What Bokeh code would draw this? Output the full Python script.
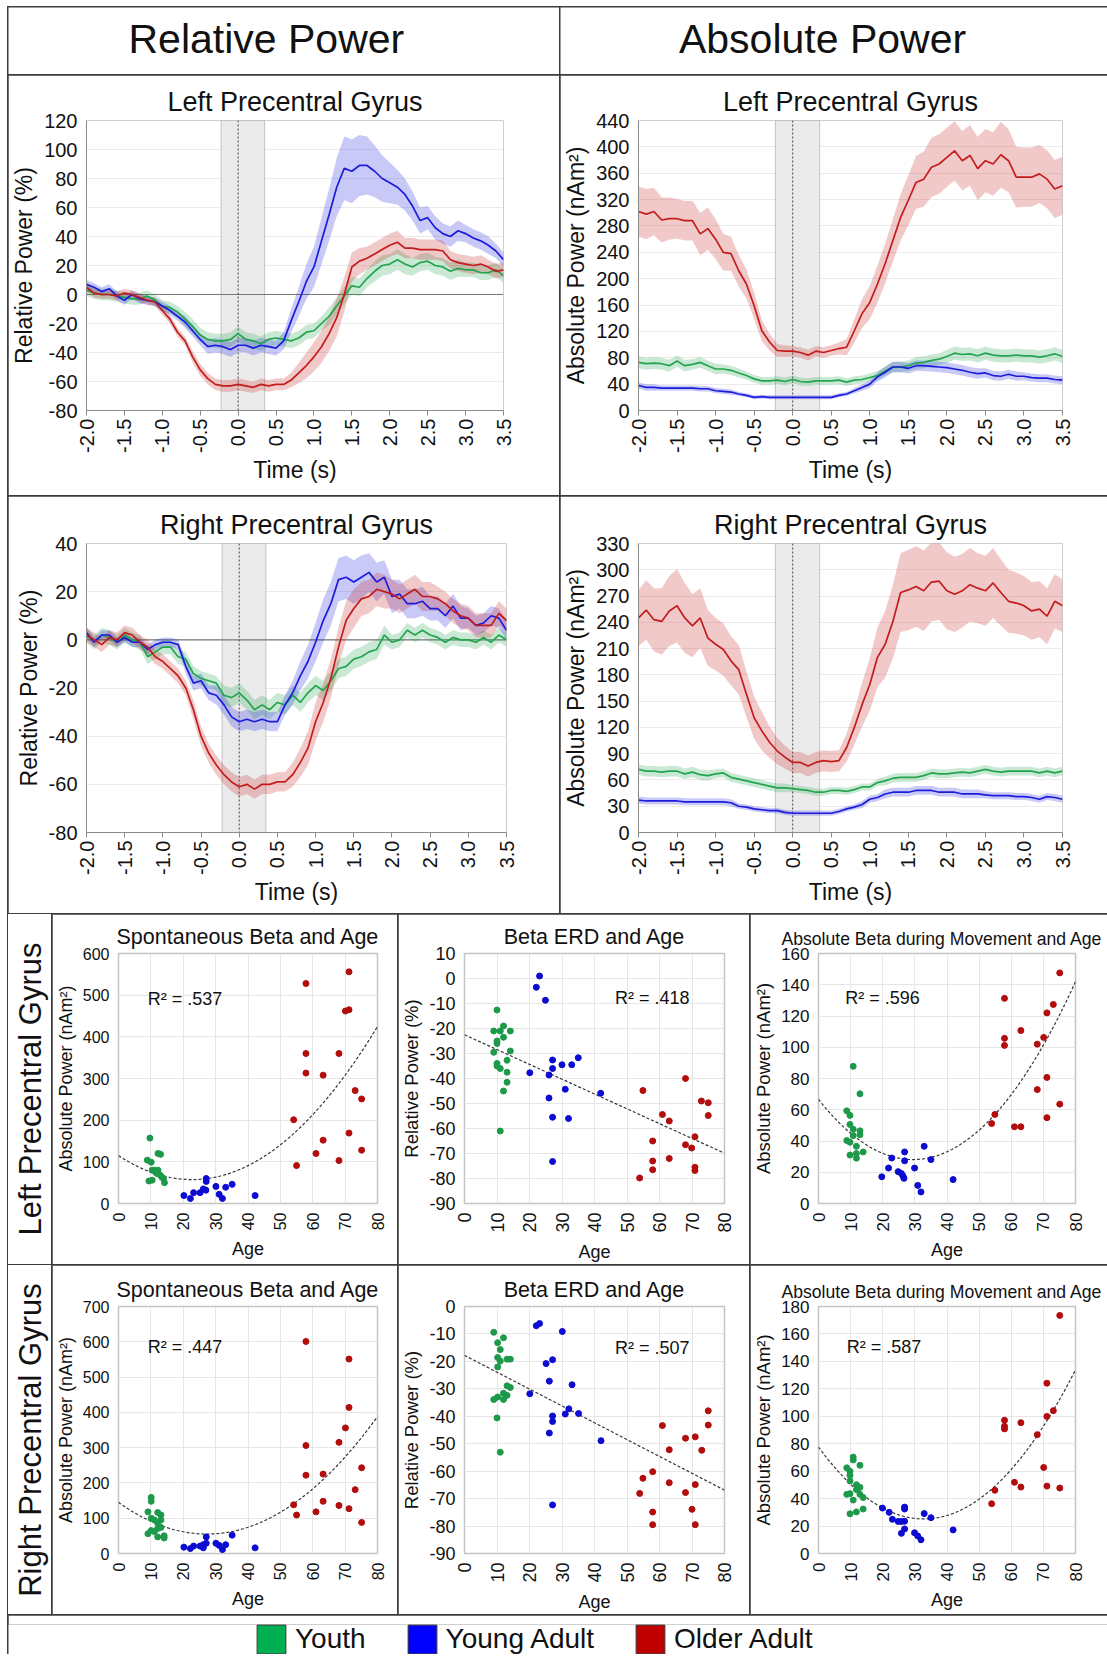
import math
import numpy as np
from bokeh.plotting import figure
from bokeh.layouts import row, column
from bokeh.models import (FixedTicker, PrintfTickFormatter, Span, BoxAnnotation,
                          Range1d, Legend, LegendItem, Div)
from bokeh.core.properties import value
from bokeh.embed import file_html
from bokeh.resources import INLINE

FONT = "Liberation Sans"

# ---------------- groups ----------------
group_names = ["Youth", "Young Adult", "Older Adult"]
line_colors = ["#23a54f", "#1c1cdc", "#c41c1c"]
dot_colors = ["#1c9a4a", "#0b0bd2", "#b20c0c"]
legend_colors = ["#00b050", "#0000ff", "#c00000"]

# ---------------- time series ----------------
time_s = np.round(np.arange(-2.0, 3.5001, 0.1), 1)   # sampling grid
time_ticks = [-2.0, -1.5, -1.0, -0.5, 0.0, 0.5, 1.0, 1.5, 2.0, 2.5, 3.0, 3.5]
move_window = [-0.225, 0.35]

# Left precentral gyrus, relative power (%)
rel_lpg_youth = [3,1,0,0,-1,-2,-3,-3,-1,-4, -8,-9,-12,-17,-22,-28,-31,-32,-32,-31,
                 -27,-31,-32,-34,-31,-30,-31,-32,-30,-26, -25,-20,-15,-8,-1,6,5,11,16,20,
                 21,24,21,19,22,23,20,19,16,18, 17,17,15,15,17,13]
rel_lpg_young = [7,5,2,4,-1,-4,0,-3,-4,-5, -8,-11,-15,-19,-25,-31,-36,-35,-36,-38,
                 -35,-35,-37,-35,-36,-37,-32,-18,-5,9, 19,37,55,74,87,85,89,89,85,80,
                 77,74,69,61,51,53,46,42,40,44, 42,39,37,34,30,24]
rel_lpg_older = [5,1,0,0,-1,1,0,-2,-4,-5, -11,-17,-26,-32,-43,-52,-58,-62,-63,-63,
                 -62,-63,-64,-62,-63,-62,-62,-59,-54,-49, -43,-36,-27,-16,0,19,23,25,28,31,
                 34,36,32,32,31,31,31,30,24,22, 21,20,21,19,16,17]
rel_lpg_youth_err = [4,4,4,4,4,4,4,4,4,4, 4,4,4,5,5,5,5,5,5,5, 5,5,5,5,5,5,5,5,5,5,
                     5,5,6,6,6,6,6,6,7,7, 7,7,7,6,6,6,6,6,6,6, 5,5,5,5,5,5]
rel_lpg_young_err = [3,3,3,3,3,3,3,3,3,3, 3,3,3,4,4,4,5,5,5,5, 5,5,5,5,5,5,6,8,10,12,
                     14,16,18,20,22,22,21,20,18,16, 14,12,11,10,9,8,8,7,7,7, 6,6,6,6,5,5]
rel_lpg_older_err = [3,3,3,3,3,3,3,3,3,3, 3,3,3,3,4,4,4,4,4,4, 4,4,4,4,4,4,4,5,7,9,
                     10,11,12,13,12,10,9,8,8,8, 8,8,7,7,7,7,7,7,6,6, 6,6,6,5,5,5]

# Left precentral gyrus, absolute power (nAm^2)
abs_lpg_youth = [73,71,72,71,68,75,68,70,73,68, 63,63,61,57,53,48,45,45,46,44,
                 47,44,43,45,45,45,46,43,46,47, 50,53,60,66,66,68,72,73,76,78,
                 82,87,85,86,83,87,84,83,83,84, 83,83,81,83,86,82]
abs_lpg_young = [38,35,35,34,34,34,34,34,33,33, 30,29,28,25,23,20,21,20,20,20,
                 20,20,20,20,20,20,23,25,30,35, 40,51,58,66,66,64,68,68,67,66,
                 65,63,61,58,56,57,53,52,55,52, 52,50,49,49,47,46]
abs_lpg_older = [302,298,302,289,291,291,288,288,268,276, 260,240,238,212,192,159,121,104,91,90,
                 90,88,84,90,88,91,94,96,121,147, 164,192,223,258,293,319,346,351,369,374,
                 384,394,379,387,367,379,374,388,379,354, 354,354,359,351,336,341]
abs_lpg_youth_err = [9,9,9,9,9,9,9,8,8,8, 8,7,7,7,6,6,6,6,6,6, 6,6,6,6,6,6,6,6,6,6,
                     6,7,7,8,8,8,9,9,9,9, 10,10,10,10,10,10,10,10,10,10, 10,10,10,10,10,10]
abs_lpg_young_err = [5,5,5,4,4,4,4,4,4,4, 4,4,4,3,3,3,3,3,3,3, 3,3,3,3,3,3,3,3,4,5,
                     6,7,8,8,8,8,8,8,8,8, 8,8,8,8,8,7,7,7,7,7, 6,6,6,6,6,6]
abs_lpg_older_err = [38,38,36,34,32,30,30,30,32,32, 30,28,26,24,22,20,16,13,10,9,
                     8,8,8,8,8,8,9,12,18,22, 25,28,30,32,35,38,40,42,45,45,
                     45,45,45,46,48,48,48,50,48,46, 45,45,44,44,44,44]

# Right precentral gyrus, relative power (%)
rel_rpg_youth = [2,-1,2,1,-1,2,0,-1,-7,-5, -3,-3,-7,-8,-14,-16,-17,-18,-23,-24,
                 -22,-25,-29,-27,-29,-26,-27,-23,-26,-22, -19,-21,-17,-12,-11,-8,-7,-5,-4,2,
                 -1,0,4,2,4,2,1,-1,1,0, 0,-1,1,-1,2,0]
rel_rpg_young = [3,-1,2,2,-1,1,-1,-1,-4,-2, -1,-1,-2,-11,-18,-17,-22,-23,-27,-32,
                 -34,-33,-34,-33,-34,-34,-27,-22,-15,-9, -1,8,15,25,26,24,26,28,24,26,
                 18,19,15,15,16,13,13,10,14,9, 9,6,7,10,9,4]
rel_rpg_older = [2,0,-2,1,0,3,2,-1,-3,-7, -9,-12,-15,-20,-29,-40,-47,-52,-56,-59,
                 -61,-60,-62,-60,-60,-59,-59,-56,-51,-45, -34,-26,-16,-3,8,13,17,18,21,20,
                 19,17,19,21,18,18,17,15,12,10, 9,6,6,6,11,8]
rel_rpg_youth_err = [3,3,3,3,3,3,3,3,3,3, 3,3,3,3,3,3,3,3,4,4, 4,4,4,4,4,4,4,4,4,4,
                     4,4,4,4,4,4,4,4,4,4, 3,3,3,3,3,3,3,3,3,3, 3,3,3,3,3,3]
rel_rpg_young_err = [2,2,2,2,2,2,2,2,2,2, 2,2,2,3,3,3,3,4,4,4, 4,4,4,4,4,4,4,5,6,7,
                     8,9,9,9,9,9,9,8,8,7, 7,6,6,6,6,5,5,5,5,5, 4,4,4,4,4,4]
rel_rpg_older_err = [3,3,3,3,3,3,3,3,3,3, 3,3,3,3,4,4,4,4,4,4, 4,4,4,4,4,4,4,5,6,7,
                     8,8,8,8,8,8,7,7,7,7, 6,6,6,6,6,6,5,5,5,5, 5,5,5,5,5,5]

# Right precentral gyrus, absolute power (nAm^2)
abs_rpg_youth = [72,70,70,69,70,70,67,69,66,65, 67,68,63,61,59,57,55,53,51,51,
                 50,49,48,46,46,48,48,47,49,52, 52,57,59,62,63,63,63,65,68,67,
                 67,68,69,68,70,72,70,69,70,70, 70,70,68,70,68,70]
abs_rpg_young = [37,36,36,36,36,36,35,35,35,35, 35,35,34,30,29,27,26,25,25,23,
                 22,22,22,22,22,22,24,27,29,32, 38,40,44,46,46,46,48,48,48,46,
                 46,46,44,44,44,43,42,42,42,41, 41,40,38,41,40,38]
abs_rpg_older = [245,254,243,241,253,259,245,236,245,222, 215,209,196,186,158,131,116,103,93,86,
                 80,80,76,80,82,81,82,97,120,146, 169,200,215,241,274,277,281,276,286,287,
                 276,272,276,283,279,276,285,274,264,262, 259,253,255,247,264,259]
abs_rpg_youth_err = [6,6,6,6,6,6,6,6,6,6, 5,5,5,5,5,5,5,5,5,5, 4,4,4,4,4,4,4,4,4,4,
                     4,4,5,5,5,5,5,5,5,5, 5,5,5,5,5,5,5,5,5,5, 5,5,5,5,5,5]
abs_rpg_young_err = [4,4,4,4,4,4,4,4,4,4, 4,4,4,3,3,3,3,3,3,3, 3,3,3,3,3,3,3,3,3,4,
                     4,4,5,5,5,5,5,5,5,5, 5,5,5,5,5,4,4,4,4,4, 4,4,4,4,4,4]
abs_rpg_older_err = [32,34,36,38,40,42,40,36,34,32, 30,30,28,28,26,24,22,18,15,13,
                     12,12,12,12,12,12,12,16,20,25, 30,34,38,42,45,46,46,46,45,44,
                     44,43,42,42,40,40,40,38,36,35, 34,33,32,32,31,30]

# ---------------- scatter data (age, value) ----------------
# S1: Left PG, spontaneous beta (nAm^2)
s1_youth_age = [9.7, 8.9, 10.1, 12.2, 13.0, 10.4, 11.1, 12.2, 11.9, 12.9, 13.9, 9.4, 10.4, 14.2, 13.4, 11.5]
s1_youth_val = [157, 104, 99, 120, 118, 80, 80, 80, 72, 68, 60, 54, 56, 50, 63, 75]
s1_young_age = [20.2, 22.2, 23.2, 25.2, 26.2, 27.1, 27.1, 27.0, 30.1, 31.1, 32.1, 33.1, 35.1, 42.2]
s1_young_val = [19, 12, 26, 26, 35, 60, 53, 32, 41, 22, 12, 39, 46, 19]
s1_older_age = [54.1, 55.0, 57.9, 57.9, 57.9, 61.0, 63.2, 63.2, 68.1, 68.1, 70.1, 71.2, 71.2, 71.2, 73.1, 75.1, 75.1]
s1_older_val = [201, 91, 528, 360, 313, 120, 308, 152, 360, 103, 462, 465, 556, 169, 271, 251, 128]
s1_fit = [0.1119, -5.078, 115.0]

# S2: Left PG, beta ERD (%)
s2_youth_age = [10.0, 9.0, 11.0, 12.0, 14.1, 12.0, 10.0, 10.0, 9.0, 14.1, 13.1, 10.0, 10.0, 11.0, 13.1, 13.1, 12.0, 11.0]
s2_youth_val = [-12.6, -21, -21, -19, -21, -23.5, -25, -26, -29.5, -29, -32.7, -34, -35, -36, -37.5, -41.5, -45, -61]
s2_young_age = [23.1, 22.1, 24.9, 20.1, 27.1, 27.1, 26.0, 30.0, 33.0, 35.0, 31.0, 26.0, 27.1, 32.0, 41.9, 27.1]
s2_young_val = [1, -3.5, -8.7, -37.7, -32.6, -36, -38.6, -34.5, -34.5, -31.7, -44.3, -47.8, -55.5, -56, -45.9, -73.2]
s2_older_age = [54.9, 68.0, 72.9, 75.0, 75.0, 60.9, 63.0, 57.9, 68.0, 69.9, 70.9, 57.9, 63.0, 57.9, 70.9, 70.9, 53.9]
s2_older_val = [-44.8, -40, -49, -49.7, -54.8, -54.4, -57, -65, -66.5, -67.8, -63.3, -73, -72, -76.5, -75.5, -76.8, -79.8]
s2_fit = [0.0, -0.5925, -22.5]

# S3: Left PG, absolute beta during movement (nAm^2)
s3_youth_age = [10.8, 12.9, 8.8, 9.8, 9.8, 10.8, 12.9, 12.9, 8.8, 9.8, 10.8, 11.8, 13.9, 11.8, 9.8, 11.8]
s3_youth_val = [87.8, 70.2, 59.3, 56.4, 50.6, 47.5, 46.5, 44.0, 40.3, 39.2, 43.4, 36.6, 33.0, 32.0, 31.0, 29.0]
s3_young_age = [19.7, 21.8, 22.8, 24.8, 25.8, 26.3, 26.6, 26.8, 26.8, 29.9, 30.9, 31.9, 32.9, 35.0, 41.9]
s3_young_val = [17.1, 22.7, 29.1, 20.4, 19.2, 17.6, 16.1, 33.0, 27.3, 22.7, 11.6, 7.4, 36.6, 28.1, 15.3]
s3_older_age = [53.9, 54.9, 57.9, 57.9, 57.9, 61.0, 63.0, 63.0, 68.1, 68.1, 70.1, 71.1, 71.1, 71.1, 73.1, 75.1, 75.1]
s3_older_val = [51.2, 57.0, 131.3, 105.7, 101.2, 49.1, 49.1, 110.7, 102.0, 72.9, 106.3, 122.0, 80.7, 54.9, 127.4, 63.6, 147.6]
s3_fit = [0.0445, -2.62, 66.7]

# S4: Right PG, spontaneous beta (nAm^2)
s4_youth_age = [10.1, 10.1, 9.1, 12.1, 13.1, 10.1, 11.1, 13.1, 12.1, 13.1, 12.1, 10.1, 9.1, 11.1, 14.1, 12.1, 14.1]
s4_youth_val = [159, 148, 118, 116, 109, 100, 95, 95, 86, 74, 71, 65, 56, 62, 50, 47, 44]
s4_young_age = [20.2, 22.2, 23.2, 25.2, 26.2, 26.2, 27.1, 27.1, 30.1, 31.1, 32.1, 33.1, 35.1, 42.2]
s4_young_val = [18, 14, 21, 21, 25, 16, 47, 29, 29, 23, 11, 25, 52, 16]
s4_older_age = [54.1, 55.0, 57.9, 57.9, 57.9, 61.0, 63.2, 63.2, 68.1, 68.1, 70.1, 71.2, 71.2, 71.2, 73.1, 75.1, 75.1]
s4_older_val = [138, 109, 601, 306, 222, 118, 225, 148, 315, 136, 356, 551, 414, 127, 181, 243, 88]
s4_fit = [0.1201, -6.57, 145.0]

# S5: Right PG, beta ERD (%)
s5_youth_age = [9.0, 10.2, 12.0, 11.0, 10.2, 11.0, 13.1, 14.1, 10.2, 13.1, 14.1, 12.0, 13.1, 10.2, 9.0, 12.0, 10.0, 11.0]
s5_youth_val = [-9.4, -13.2, -11.4, -15.7, -18.6, -19.9, -19.2, -19.2, -22.0, -28.9, -29.5, -31.6, -32.4, -33.0, -33.9, -33.9, -40.6, -53.1]
s5_young_age = [22.1, 23.1, 30.1, 25.1, 27.1, 26.1, 33.1, 20.1, 32.1, 31.0, 35.1, 27.1, 27.1, 26.1, 42.0, 27.1]
s5_young_val = [-7.0, -6.2, -9.1, -20.8, -19.4, -27.2, -28.5, -31.8, -37.3, -39.2, -39.0, -39.9, -41.9, -46.1, -48.9, -72.3]
s5_older_age = [75.0, 75.0, 60.9, 68.0, 71.0, 63.0, 73.0, 57.9, 54.9, 63.0, 68.0, 71.0, 53.9, 70.0, 57.9, 57.9, 71.0]
s5_older_val = [-38.0, -43.2, -43.4, -48.0, -47.5, -52.2, -52.4, -60.2, -62.6, -64.2, -67.8, -64.9, -68.1, -73.9, -74.9, -79.5, -79.5]
s5_fit = [0.0, -0.614, -17.8]

# S6: Right PG, absolute beta during movement (nAm^2)
s6_youth_age = [10.8, 10.8, 12.9, 8.8, 9.8, 9.8, 9.8, 11.8, 12.9, 11.8, 12.9, 8.8, 9.8, 13.9, 10.8, 13.9, 11.8, 9.8]
s6_youth_val = [70.3, 68.2, 64.3, 62.4, 59.9, 57.0, 52.9, 50.1, 48.2, 46.6, 43.1, 43.1, 43.6, 40.8, 38.9, 32.4, 30.3, 28.9]
s6_young_age = [19.9, 22.0, 23.0, 24.8, 25.8, 26.8, 26.8, 26.8, 26.8, 25.8, 29.9, 30.9, 31.9, 32.9, 35.0, 41.9]
s6_young_val = [33.1, 30.0, 24.9, 23.3, 23.3, 23.5, 33.8, 32.4, 17.9, 14.7, 15.1, 12.8, 10.0, 29.1, 26.1, 17.2]
s6_older_age = [53.9, 54.9, 57.9, 57.9, 57.9, 61.0, 63.0, 63.0, 68.1, 70.1, 71.1, 71.1, 71.1, 73.1, 75.1, 75.1]
s6_older_val = [36.3, 46.1, 97.1, 92.7, 90.8, 51.9, 95.3, 48.4, 86.6, 62.7, 124.1, 99.9, 49.1, 104.1, 173.5, 47.7]
s6_fit = [0.04875, -3.197, 77.6]

age_ticks = [0, 10, 20, 30, 40, 50, 60, 70, 80]


def blank_fig(w, h, xr=(0, 1), yr=(0, 1), **kw):
    p = figure(width=w, height=h, x_range=Range1d(*xr), y_range=Range1d(*yr),
               toolbar_location=None, output_backend="svg",
               x_axis_location=None, y_axis_location=None, **kw)
    p.grid.visible = False
    p.outline_line_color = None
    p.background_fill_color = "white"
    p.border_fill_color = "white"
    return p


def header(txt, w, h, xf):
    p = blank_fig(w, h, min_border=0)
    p.text(x=[xf], y=[0.53], text=[txt], text_font=value(FONT), text_font_size="41px",
           text_align="center", text_baseline="middle", text_color="#111111")
    return p


def side_label(txt, w, h):
    html = (
        f'<div style="position:relative;width:{w}px;height:{h}px;overflow:hidden;'
        f'background:#ffffff;">'
        f'<span style="position:absolute;left:50%;top:50%;white-space:nowrap;'
        f'transform:translate(-50%,-50%) rotate(-90deg);font-family:\'{FONT}\';'
        f'font-size:31px;line-height:1;color:#111111;">{txt}</span></div>'
    )
    return Div(text=html, width=w, height=h, margin=0,
               styles={"background-color": "#ffffff", "overflow": "hidden"})


def style_axis(ax, tick_size, label_size):
    ax.major_label_text_font = FONT
    ax.major_label_text_font_size = tick_size
    ax.major_label_text_color = "#111111"
    ax.axis_label_text_font = FONT
    ax.axis_label_text_font_size = label_size
    ax.axis_label_text_font_style = "normal"
    ax.axis_label_text_color = "#111111"
    ax.minor_tick_line_color = None
    ax.major_label_standoff = 3
    ax.axis_label_standoff = 4


def ts_fig(title, w, h, borders, yr, yticks, ylabel, series, errs, relative):
    l, r, t, b = borders
    p = figure(width=w, height=h, x_range=Range1d(-2.0, 3.5), y_range=Range1d(*yr),
               toolbar_location=None, output_backend="svg", title=title,
               min_border_left=l, min_border_right=r, min_border_top=t, min_border_bottom=b)
    p.title.align = "center"
    p.title.text_font = FONT
    p.title.text_font_size = "27px"
    p.title.text_font_style = "normal"
    p.title.text_color = "#111111"
    p.title.standoff = 7
    p.outline_line_color = None
    p.border_fill_color = "white"
    p.add_layout(BoxAnnotation(left=move_window[0], right=move_window[1], fill_color="#ebebeb",
                               fill_alpha=1.0, line_color="#555555", line_width=1, level="underlay"))
    if relative:
        p.add_layout(Span(location=0, dimension="width", line_color="#777777", line_width=1.2,
                          level="underlay"))
    p.add_layout(Span(location=0, dimension="height", line_color="#444444", line_width=1,
                      line_dash="2 2", level="underlay"))
    for vals, err, col in zip(series, errs, line_colors):
        v = np.array(vals, float)
        e = np.array(err, float)
        p.varea(x=time_s, y1=v - e, y2=v + e, fill_color=col, fill_alpha=0.24)
    for vals, col in zip(series, line_colors):
        p.line(time_s, vals, line_color=col, line_width=1.7)
    p.xaxis.ticker = FixedTicker(ticks=time_ticks)
    p.xaxis.formatter = PrintfTickFormatter(format="%.1f")
    p.xaxis.major_label_orientation = math.pi / 2
    p.xaxis.axis_label = "Time (s)"
    p.yaxis.ticker = FixedTicker(ticks=yticks)
    p.yaxis.formatter = PrintfTickFormatter(format="%d")
    p.yaxis.axis_label = ylabel
    style_axis(p.xaxis[0], "20px", "23px")
    style_axis(p.yaxis[0], "20px", "23px")
    p.xaxis.axis_label_standoff = 1
    p.xaxis.axis_line_color = "#8a8a8a"
    p.yaxis.axis_line_color = "#8a8a8a"
    p.xaxis.major_tick_line_color = "#8a8a8a"
    p.xaxis.major_tick_out = 5
    p.xaxis.major_tick_in = 0
    p.yaxis.major_tick_line_color = None
    p.xgrid.visible = False
    p.ygrid.grid_line_color = "#ebebeb"
    return p


def sc_fig(title, w, h, borders, yr, yticks, ylabel, groups, fit, r2txt, r2pos, fs, tleft=None):
    l, r, t, b = borders
    title_fs, tick_fs, label_fs = fs
    p = figure(width=w, height=h, x_range=Range1d(0, 80), y_range=Range1d(*yr),
               toolbar_location=None, output_backend="svg", title=title,
               min_border_left=l, min_border_right=r, min_border_top=t, min_border_bottom=b)
    if tleft is None:
        p.title.align = "center"
    else:
        p.title.align = "left"
        p.title.offset = tleft
    p.title.text_font = FONT
    p.title.text_font_size = title_fs
    p.title.text_font_style = "normal"
    p.title.text_color = "#111111"
    p.title.standoff = 9
    p.outline_line_color = "#c4c4c4"
    p.outline_line_width = 1.5
    p.border_fill_color = "white"
    p.grid.grid_line_color = "#e6e6e6"
    fx = np.linspace(0, 80, 161)
    p.line(fx, np.polyval(fit, fx), line_color="#333333", line_width=1.2, line_dash="3 2")
    for (ages, vals), col in zip(groups, dot_colors):
        p.scatter(ages, vals, size=6, fill_color=col, line_color=col)
    p.text(x=[r2pos[0]], y=[r2pos[1]], text=[r2txt], text_font=value(FONT),
           text_font_size="18px", text_align="left", text_baseline="middle",
           text_color="#111111")
    p.xaxis.ticker = FixedTicker(ticks=age_ticks)
    p.xaxis.formatter = PrintfTickFormatter(format="%d")
    p.xaxis.major_label_orientation = math.pi / 2
    p.xaxis.axis_label = "Age"
    p.yaxis.ticker = FixedTicker(ticks=yticks)
    p.yaxis.formatter = PrintfTickFormatter(format="%d")
    p.yaxis.axis_label = ylabel
    style_axis(p.xaxis[0], tick_fs, "18px")
    style_axis(p.yaxis[0], tick_fs, label_fs)
    p.xaxis.axis_label_standoff = 6
    for ax in (p.xaxis[0], p.yaxis[0]):
        ax.axis_line_color = None
        ax.major_tick_line_color = None
    return p


ABS = "Absolute Power (nAm\u00b2)"
REL = "Relative Power (%)"

h1 = header("Relative Power", 551, 67, 0.468)
h2 = header("Absolute Power", 547, 67, 0.479)

p1 = ts_fig("Left Precentral Gyrus", 551, 420, (74, 56, 44, 85), (-80, 120),
            [-80, -60, -40, -20, 0, 20, 40, 60, 80, 100, 120], REL,
            [rel_lpg_youth, rel_lpg_young, rel_lpg_older],
            [rel_lpg_youth_err, rel_lpg_young_err, rel_lpg_older_err], True)
p2 = ts_fig("Left Precentral Gyrus", 547, 420, (77, 45, 45, 85), (0, 440),
            [0, 40, 80, 120, 160, 200, 240, 280, 320, 360, 400, 440], ABS,
            [abs_lpg_youth, abs_lpg_young, abs_lpg_older],
            [abs_lpg_youth_err, abs_lpg_young_err, abs_lpg_older_err], False)
p3 = ts_fig("Right Precentral Gyrus", 551, 417, (78, 53, 47, 79), (-80, 40),
            [-80, -60, -40, -20, 0, 20, 40], REL,
            [rel_rpg_youth, rel_rpg_young, rel_rpg_older],
            [rel_rpg_youth_err, rel_rpg_young_err, rel_rpg_older_err], True)
p4 = ts_fig("Right Precentral Gyrus", 547, 417, (77, 45, 46, 81), (0, 330),
            [0, 30, 60, 90, 120, 150, 180, 210, 240, 270, 300, 330], ABS,
            [abs_rpg_youth, abs_rpg_young, abs_rpg_older],
            [abs_rpg_youth_err, abs_rpg_young_err, abs_rpg_older_err], False)

l1 = side_label("Left Precentral Gyrus", 43, 350)
s1 = sc_fig("Spontaneous Beta and Age", 345, 350, (60, 20, 38, 53), (0, 600),
            [0, 100, 200, 300, 400, 500, 600], ABS,
            [(s1_youth_age, s1_youth_val), (s1_young_age, s1_young_val), (s1_older_age, s1_older_val)],
            s1_fit, "R\u00b2 = .537", (9.0, 491), ("21.5px", "16px", "18px"))
s2 = sc_fig("Beta ERD and Age", 351, 350, (60, 25, 39, 52), (-90, 10),
            [-90, -80, -70, -60, -50, -40, -30, -20, -10, 0, 10], REL,
            [(s2_youth_age, s2_youth_val), (s2_young_age, s2_young_val), (s2_older_age, s2_older_val)],
            s2_fit, "R\u00b2 = .418", (46.3, -7.8), ("21.5px", "18px", "18.5px"))
s3 = sc_fig("Absolute Beta during Movement and Age", 357, 350, (62, 32, 39, 52), (0, 160),
            [0, 20, 40, 60, 80, 100, 120, 140, 160], ABS,
            [(s3_youth_age, s3_youth_val), (s3_young_age, s3_young_val), (s3_older_age, s3_older_val)],
            s3_fit, "R\u00b2 = .596", (8.3, 131.5), ("17.6px", "17px", "18.5px"), tleft=-37)

l2 = side_label("Right Precentral Gyrus", 43, 349)
s4 = sc_fig("Spontaneous Beta and Age", 345, 349, (60, 20, 40, 52), (0, 700),
            [0, 100, 200, 300, 400, 500, 600, 700], ABS,
            [(s4_youth_age, s4_youth_val), (s4_young_age, s4_young_val), (s4_older_age, s4_older_val)],
            s4_fit, "R\u00b2 = .447", (9.0, 585), ("21.5px", "16px", "18px"))
s5 = sc_fig("Beta ERD and Age", 351, 349, (60, 25, 39, 52), (-90, 0),
            [-90, -80, -70, -60, -50, -40, -30, -20, -10, 0], REL,
            [(s5_youth_age, s5_youth_val), (s5_young_age, s5_young_val), (s5_older_age, s5_older_val)],
            s5_fit, "R\u00b2 = .507", (46.3, -15.3), ("21.5px", "18px", "18.5px"))
s6 = sc_fig("Absolute Beta during Movement and Age", 357, 349, (62, 32, 41, 50), (0, 180),
            [0, 20, 40, 60, 80, 100, 120, 140, 160, 180], ABS,
            [(s6_youth_age, s6_youth_val), (s6_young_age, s6_young_val), (s6_older_age, s6_older_val)],
            s6_fit, "R\u00b2 = .587", (8.8, 150.7), ("17.6px", "17px", "18.5px"), tleft=-37)

# legend row (legend glyph renderers are kept outside the visible range)
lp = blank_fig(1099, 39, min_border_left=0, min_border_right=0, min_border_top=9,
               min_border_bottom=0)
items = []
for name, col in zip(group_names, legend_colors):
    rr = lp.quad(left=[5], right=[6], top=[6], bottom=[5], fill_color=col,
                 line_color="#3a3a3a", line_width=1)
    items.append(LegendItem(label=name, renderers=[rr]))
leg = Legend(items=items, orientation="horizontal", location=(245, -3),
             glyph_width=36, glyph_height=36, label_text_font=FONT,
             label_text_font_size="28px", label_text_color="#111111",
             label_standoff=6, spacing=38, padding=0, margin=0,
             border_line_color=None, background_fill_alpha=0.0)
lp.add_layout(leg, "center")

layout = column(
    row(h1, h2, spacing=1),
    row(p1, p2, spacing=1),
    row(p3, p4, spacing=1),
    row(l1, s1, s2, s3, spacing=1),
    row(l2, s4, s5, s6, spacing=1),
    lp,
    spacing=1,
    margin=(6, 0, 0, 7),
    styles={"background-color": "#3c3c3c", "padding": "1px 0px 0px 1px"},
)

open("out.html", "w").write(file_html(layout, INLINE, title="Beta power and age"))
